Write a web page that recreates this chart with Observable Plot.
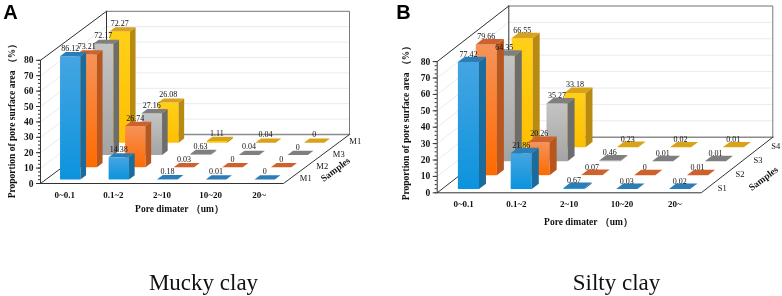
<!DOCTYPE html>
<html>
<head>
<meta charset="utf-8">
<script src="https://cdn.jsdelivr.net/npm/d3@7"></script>
<script src="https://cdn.jsdelivr.net/npm/@observablehq/plot@0.6"></script>
<style>
  html, body { margin: 0; padding: 0; background: #fff; }
  #page { position: relative; width: 782px; height: 296px; overflow: hidden; }
  #page svg { position: absolute; top: 0; filter: blur(0.35px); }
</style>
</head>
<body>
<div id="page"></div>
<script>
// ---- data ----
const categories = ["0~0.1", "0.1~2", "2~10", "10~20", "20~"];
const categoriesA = ["0~0.1", "0.1~2", "2~10", "10~20", "20~"];
const samplesA = ["M1", "M2", "M3", "M1"];
const samplesB = ["S1", "S2", "S3", "S4"];
const valuesM1 = [86.12, 14.38, 0.18, 0.01, 0];
const valuesM2 = [73.21, 26.74, 0.03, 0, 0];
const valuesM3 = [72.17, 27.16, 0.63, 0.04, 0];
const valuesM4 = [72.27, 26.08, 1.11, 0.04, 0];
const valuesS1 = [77.42, 21.86, 0.67, 0.03, 0.02];
const valuesS2 = [79.66, 20.26, 0.07, 0, 0.01];
const valuesS3 = [64.35, 35.27, 0.46, 0.01, 0.01];
const valuesS4 = [66.55, 33.18, 0.23, 0.02, 0.01];
const yTicks = [0, 10, 20, 30, 40, 50, 60, 70, 80];
const yMinorTicks = d3.range(0, 80.1, 2.5);
const yTitle = "Proportion of pore surface area （%）";
const xTitle = "Pore dimater （um）";
const depthTitle = "Samples";

// ---- styling ----
const serif = "'Liberation Serif', 'Times New Roman', serif";
const palette = [
  {front: ["#45a5e2", "#0c93dd"], side: "#1a6c9c", top: "#2c7db5"},
  {front: ["#f5935a", "#ff6a00"], side: "#b8561f", top: "#cf622c"},
  {front: ["#c4c4c4", "#a4a4a4"], side: "#6d6d6d", top: "#7f7f7f"},
  {front: ["#ffd018", "#ffbf00"], side: "#b98a10", top: "#d9a21b"}
];
const axisMax = 80;

function panel(cfg) {
  const {id, left, width, x0, y0, catW, unit, depthDx, depthDy, series, samples, cats, barW, df, db} = cfg;
  const sx = (depthDx / 4) / catW;   // category units per depth unit
  const sy = (depthDy / 4) / unit;   // value units per depth unit
  const X = (c, d) => c + d * sx;
  const Y = (v, d) => v + d * sy;
  const n = cats.length;

  // wall and floor outlines, in oblique data space
  const poly = (key, pts) => pts.map(([c, d, v]) => ({key, x: X(c, d), y: Y(v, d)}));
  const grid = yTicks.slice(1).flatMap(v => poly("g" + v, [[0, 0, v], [0, 4, v], [n, 4, v]]));
  const darkEdges = [
    ...poly("left", [[0, 0, 0], [0, 4, 0], [0, 4, axisMax]]),
    ...poly("leftTop", [[0, 0, axisMax], [0, 4, axisMax]]),
    ...poly("front", [[0, 0, 0], [n, 0, 0], [n, 4, 0]])
  ];
  const greyEdges = [
    ...poly("backTop", [[0, 4, axisMax], [n, 4, axisMax], [n, 4, 0]]),
  ];
  const floorBack = poly("floorBack", [[0, 4, 0], [n, 4, 0]]);

  // bar faces, painted from the back row to the front row
  const faces = [];
  const labels = [];
  for (let s = series.length - 1; s >= 0; --s) {
    series[s].forEach((v, c) => {
      const top = Math.min(v, axisMax);
      const xl = c + 0.5 - barW / 2, xr = c + 0.5 + barW / 2;
      const d0 = s + df, d1 = s + db;
      const key = `${s}-${c}`;
      const face = (name, fill, pts) =>
        pts.forEach(([cc, d, val]) => faces.push({id: key + name, fill, x: X(cc, d), y: Y(val, d)}));
      face("f", `url(#${id}-front-${s})`, [[xl, d0, 0], [xr, d0, 0], [xr, d0, top], [xl, d0, top]]);
      face("s", palette[s].side, [[xr, d0, 0], [xr, d1, 0], [xr, d1, top], [xr, d0, top]]);
      face("t", palette[s].top, [[xl, d0, top], [xr, d0, top], [xr, d1, top], [xl, d1, top]]);
      labels.push({text: String(v), x: X(c + 0.5, d0), y: Y(top, d0)});
    });
  }
  const sampleLabels = samples.map((t, s) => ({t, x: X(n, s + 0.5), y: Y(0, s + 0.5)}));
  const atX = px => (px - x0) / catW;
  const atY = py => (y0 - py) / unit;

  const defs = () => {
    const ns = "http://www.w3.org/2000/svg";
    const el = document.createElementNS(ns, "defs");
    palette.forEach((p, s) => {
      const g = document.createElementNS(ns, "linearGradient");
      g.setAttribute("id", `${id}-front-${s}`);
      g.setAttribute("x1", 0); g.setAttribute("x2", 0);
      g.setAttribute("y1", 0); g.setAttribute("y2", 1);
      p.front.forEach((col, i) => {
        const st = document.createElementNS(ns, "stop");
        st.setAttribute("offset", i);
        st.setAttribute("stop-color", col);
        g.appendChild(st);
      });
      el.appendChild(g);
    });
    return el;
  };

  const svg = Plot.plot({
    width, height: 296,
    marginLeft: x0, marginRight: width - x0 - n * catW - depthDx,
    marginTop: 0, marginBottom: 296 - y0,
    style: {fontFamily: serif, fontSize: "9px", fontWeight: "bold", color: "#111", background: "transparent"},
    x: {domain: [0, n + 4 * sx], axis: null},
    y: {domain: [0, y0 / unit], axis: null},
    color: {type: "identity"},
    marks: [
      defs,
      Plot.line(grid, {x: "x", y: "y", z: "key", stroke: "#e6ebf2", strokeWidth: 1}),
      Plot.line(floorBack, {x: "x", y: "y", z: "key", stroke: "#8c8c8c", strokeWidth: 1.6}),
      Plot.line(greyEdges, {x: "x", y: "y", z: "key", stroke: "#7a7a7a", strokeWidth: 1}),
      Plot.line(darkEdges, {x: "x", y: "y", z: "key", stroke: "#333", strokeWidth: 1}),
      Plot.axisY({ticks: yMinorTicks, tickFormat: () => "", tickSize: 2, stroke: "#333", label: null}),
      Plot.axisY({ticks: yTicks, tickSize: 4, tickPadding: 3, stroke: "#333", fontSize: 9.5, label: null}),
      Plot.ruleX([0], {y1: 0, y2: axisMax, stroke: "#333"}),
      Plot.axisX({
        ticks: cats.map((_, i) => i + 0.5),
        tickFormat: d => cats[d - 0.5],
        tickSize: 0, tickPadding: cfg.xPad, fontSize: 9, label: null
      }),
      Plot.line(faces, {x: "x", y: "y", z: "id", fill: "fill", stroke: "none"}),
      Plot.text(labels, {x: "x", y: "y", text: "text", dy: -8, fontSize: 8, fontWeight: "normal", fill: "#111"}),
      Plot.text(sampleLabels, {x: "x", y: "y", text: "t", dx: cfg.sampleDx, dy: cfg.sampleDy, fontSize: 8.5, fontWeight: "normal"}),
      Plot.text([yTitle], {x: atX(cfg.yTitleAt[0]), y: atY(cfg.yTitleAt[1]), rotate: -90, fontSize: 9.5, fontWeight: "bold", text: d => d}),
      Plot.text([xTitle], {x: atX(cfg.xTitleAt[0]), y: atY(cfg.xTitleAt[1]), fontSize: 9.5, fontWeight: "bold", text: d => d}),
      Plot.text([depthTitle], {x: atX(cfg.depthTitleAt[0]), y: atY(cfg.depthTitleAt[1]), rotate: -37, fontSize: 9.5, fontWeight: "bold", text: d => d}),
      Plot.text([cfg.letter], {x: atX(cfg.letterAt[0]), y: atY(cfg.letterAt[1]), fontSize: 20, fontWeight: "bold", fontFamily: "'Liberation Sans', Arial, sans-serif", fill: "#000", text: d => d}),
      Plot.text([cfg.caption], {x: atX(cfg.captionAt[0]), y: atY(cfg.captionAt[1]), fontSize: 23, fontWeight: "normal", fill: "#111", text: d => d})
    ]
  });
  svg.style.left = left + "px";
  document.getElementById("page").appendChild(svg);
}

panel({
  id: "a", left: 0, width: 391, x0: 40, y0: 183, catW: 48.6, unit: 1.54, depthDx: 66, depthDy: 49,
  barW: 0.42, df: 0.33, db: 0.67,
  series: [valuesM1, valuesM2, valuesM3, valuesM4], samples: samplesA, cats: categoriesA,
  xPad: 8, sampleDx: 14, sampleDy: 1,
  yTitleAt: [11, 118], xTitleAt: [179, 208], depthTitleAt: [335, 169],
  letter: "A", letterAt: [10, 12], caption: "Mucky clay", captionAt: [203, 282]
});

panel({
  id: "b", left: 391, width: 391, x0: 45.7, y0: 192.3, catW: 52.8, unit: 1.64, depthDx: 71.6, depthDy: 55.6,
  barW: 0.40, df: 0.27, db: 0.66,
  series: [valuesS1, valuesS2, valuesS3, valuesS4], samples: samplesB, cats: categories,
  xPad: 8, sampleDx: 12, sampleDy: 2,
  yTitleAt: [14, 120], xTitleAt: [197, 221], depthTitleAt: [372, 178],
  letter: "B", letterAt: [12, 12], caption: "Silty clay", captionAt: [225, 282]
});
</script>
</body>
</html>
